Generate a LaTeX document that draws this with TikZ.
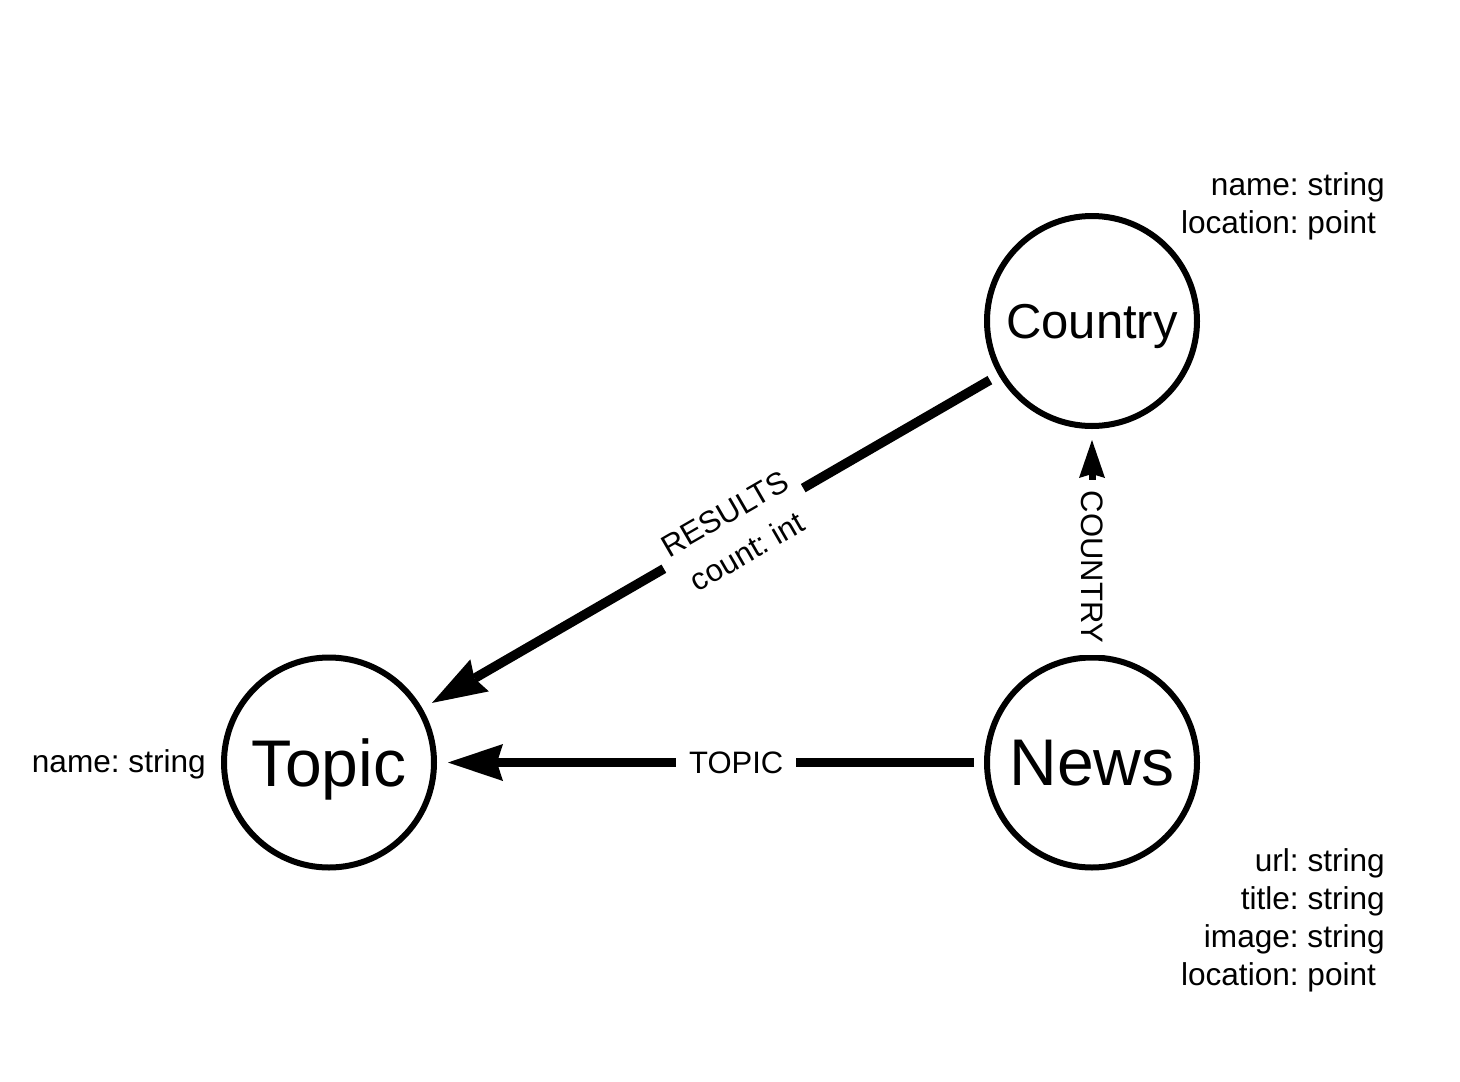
\documentclass[tikz,border=0pt]{standalone}
\usepackage{fontspec}
\setmainfont{Liberation Sans}
\usetikzlibrary{arrows.meta}
\begin{document}
\frenchspacing
\begin{tikzpicture}[x=1pt,y=-1pt,
  entity/.style={circle, draw, line width=6pt, minimum size=210pt, inner sep=0pt, text depth=0pt},
  rel/.style={line width=9.5pt, -{Stealth[length=55pt,width=37pt,inset=6pt,line width=0pt]}, shorten >=11pt, shorten <=10pt},
  relthin/.style={line width=7pt, -{Stealth[length=38pt,width=26pt,inset=4pt,line width=0pt]}, shorten >=11pt, shorten <=10pt},
  rellabel/.style={fill=white, inner xsep=11pt, inner ysep=4pt, font=\fontsize{31}{37.5}\selectfont},
  attr/.style={inner sep=0pt, align=right, font=\fontsize{31.6}{38}\selectfont}]
\path[fill=white, use as bounding box] (0,0) rectangle (1460,1082);

\node[entity, font=\fontsize{49}{55}\selectfont] (country) at (1092,321) {Country};
\node[entity, font=\fontsize{66}{72}\selectfont] (topic) at (329,762.5) {Topic};
\node[entity, font=\fontsize{66}{72}\selectfont] (news) at (1092,762.5) {News};

\draw[rel] (country) -- node[rellabel, sloped, pos=0.46, yshift=-5pt, align=center, inner xsep=10pt, font=\fontsize{31}{44}\selectfont] (reslabel) {RESULTS\\count: int} (topic);
\draw[rel] (news) -- node[rellabel, pos=0.453, inner xsep=13pt] (topiclabel) {TOPIC} (topic);
\draw[relthin] (news) -- node[rellabel, rotate=-90, pos=0.387] (countrylabel) {COUNTRY} (country);

\node[attr, anchor=base east] (countryattr) at (1385,233) {name: string\\location: point\hspace*{0.278em}};
\node[attr, anchor=base east] (newsattr) at (1385,985) {url: string\\title: string\\image: string\\location: point\hspace*{0.278em}};
\node[attr, anchor=base east] (topicattr) at (206,772) {name: string};
\end{tikzpicture}
\end{document}
